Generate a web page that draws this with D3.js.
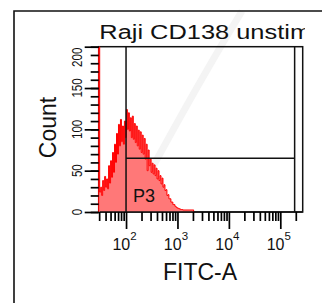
<!DOCTYPE html>
<html>
<head>
<meta charset="utf-8">
<script src="https://cdn.jsdelivr.net/npm/d3@7"></script>
<style>
  body { margin: 0; background: #fff; }
  text { font-family: "Liberation Sans", Arial, sans-serif; fill: #111; }
</style>
</head>
<body>
<div id="svg_chart"></div>
<script>
// histogram counts, one bin per ~1px (52 bins per decade), starting at the left edge
var counts = [
  260, 24, 30, 20, 38, 26, 43, 30, 40, 28, 56, 35, 62, 42, 72, 48,
  82, 60, 95, 70, 106, 80, 112, 85, 104, 82, 110, 90, 124, 100, 120, 98,
  114, 90, 116, 88, 107, 84, 104, 80, 99, 76, 97, 72, 93, 70, 89, 64,
  82, 50, 75, 56, 64, 48, 59, 46, 57, 44, 53, 40, 50, 38, 44, 34,
  41, 30, 33, 26, 27, 20, 21, 16, 16, 12, 12, 9, 9, 7, 6, 5,
  4.5, 4, 3.5, 3, 3, 2.5, 2.5, 2.5, 2.5, 2.5, 2.5, 2.5, 2.5, 2.5, 2.5, 2.5
];
var bins_per_decade = 52;
var x_min = 29.4, x_max = 272600;

var decades = [100, 1000, 10000, 100000];
var decade_exp = ['2', '3', '4', '5'];
var minor_mult = [2, 3, 4, 5, 6, 7, 8, 9];
var y_major = [0, 50, 100, 150, 200];
var y_labels = ['0', '50', '100', '150', '200'];

var gate_x = [100, 190000];
var gate_level = 65;

var title = 'Raji CD138 unstim';
var gate_name = 'P3';

const width = 322, height = 303;
const left = 98.7, top_ = 46.7, right = 302.7, bottom = 212;

var svg = d3.select('#svg_chart').append('svg')
  .attr('width', width)
  .attr('height', height);

// faint watermark band behind the plot
svg.append('path')
  .attr('d', 'M242,11 Q200,80 150,172')
  .attr('fill', 'none')
  .attr('stroke', '#f4f4f4')
  .attr('stroke-width', 7);

// outer frame
svg.append('path')
  .attr('d', `M14,${height + 5} L14,11 L${width + 5},11`)
  .attr('fill', 'none')
  .attr('stroke', '#111')
  .attr('stroke-width', 1.6);

var x = d3.scaleLog().domain([x_min, x_max]).range([left, right]);
var y = d3.scaleLinear().domain([0, 200]).range([bottom, top_]);

svg.append('clipPath').attr('id', 'plot_clip')
  .append('rect')
  .attr('x', left - 1).attr('y', top_)
  .attr('width', right - left + 1).attr('height', bottom - top_);

svg.append('clipPath').attr('id', 'title_clip')
  .append('rect')
  .attr('x', 0).attr('y', 0)
  .attr('width', 305).attr('height', top_);

// plot frame
svg.append('rect')
  .attr('x', left).attr('y', top_)
  .attr('width', right - left).attr('height', bottom - top_)
  .attr('fill', 'none')
  .attr('stroke', '#111')
  .attr('stroke-width', 1.5);

// histogram
var hist = counts.map(function(c, i) {
  return { v: Math.pow(10, Math.log10(x_min) + i / bins_per_decade), c: c };
});
hist.unshift({ v: x_min, c: 0 });
hist.push({ v: Math.pow(10, Math.log10(x_min) + counts.length / bins_per_decade), c: 0 });

var hist_group = svg.append('g').attr('clip-path', 'url(#plot_clip)');

hist_group.append('path')
  .datum(hist)
  .attr('fill', '#ff7878')
  .attr('d', d3.area()
    .curve(d3.curveStepAfter)
    .x(function(d) { return x(d.v); })
    .y0(y(0))
    .y1(function(d) { return y(d.c); }));

hist_group.append('path')
  .datum(hist)
  .attr('fill', 'none')
  .attr('stroke', '#ff0000')
  .attr('stroke-width', 1)
  .attr('d', d3.line()
    .curve(d3.curveStepAfter)
    .x(function(d) { return x(d.v); })
    .y(function(d) { return y(d.c); }));

// bottom edge again, over the histogram fill
svg.append('line')
  .attr('x1', left + 1).attr('x2', right)
  .attr('y1', bottom).attr('y2', bottom)
  .attr('stroke', '#111')
  .attr('stroke-width', 1.5);

// gate P3
svg.append('path')
  .attr('d', `M${x(gate_x[0])},${top_} L${x(gate_x[0])},${bottom}` +
             ` M${x(gate_x[1])},${top_} L${x(gate_x[1])},${bottom}` +
             ` M${x(gate_x[0])},${y(gate_level)} L${x(gate_x[1])},${y(gate_level)}`)
  .attr('fill', 'none')
  .attr('stroke', '#111')
  .attr('stroke-width', 1.5);

svg.append('text')
  .attr('x', x(gate_x[0]) + 7)
  .attr('y', 201.5)
  .style('font-size', '18px')
  .text(gate_name);

// x axis ticks
var x_minor = [];
[10, 100, 1000, 10000, 100000].forEach(function(d) {
  minor_mult.forEach(function(m) {
    var v = d * m;
    if (v >= x_min && v <= x_max) x_minor.push(v);
  });
});

function style_axis(g) {
  g.select('.domain').remove();
  g.selectAll('.tick text').remove();
  g.selectAll('.tick line').attr('stroke', '#000').attr('stroke-width', 1.7);
}

svg.append('g')
  .attr('transform', `translate(0,${bottom})`)
  .call(d3.axisBottom(x).tickValues(x_minor).tickSize(9))
  .call(style_axis);

svg.append('g')
  .attr('transform', `translate(0,${bottom})`)
  .call(d3.axisBottom(x).tickValues(decades).tickSize(17))
  .call(style_axis);

// decade labels 10^n
decades.forEach(function(d, i) {
  var t = svg.append('text')
    .attr('x', x(d) - 1.5)
    .attr('y', 250)
    .attr('text-anchor', 'middle')
    .style('font-size', '16px');
  t.append('tspan').text('10');
  t.append('tspan')
    .attr('dy', -10)
    .style('font-size', '11.5px')
    .text(decade_exp[i]);
});

// y axis ticks
svg.append('g')
  .attr('transform', `translate(${left},0)`)
  .call(d3.axisLeft(y).tickValues(d3.range(0, 201, 10)).tickSize(8))
  .call(style_axis);

svg.append('g')
  .attr('transform', `translate(${left},0)`)
  .call(d3.axisLeft(y).tickValues(y_major).tickSize(14))
  .call(style_axis);

y_major.forEach(function(d, i) {
  var top_label = (d === 200);
  svg.append('text')
    .attr('transform', `translate(81.5,${top_label ? top_ + 1 : y(d)}) rotate(-90) scale(1,1.3)`)
    .attr('text-anchor', top_label ? 'end' : 'middle')
    .style('font-size', '11.5px')
    .text(y_labels[i]);
});

// axis titles
svg.append('text')
  .attr('transform', 'translate(56,127.5) rotate(-90)')
  .attr('text-anchor', 'middle')
  .style('font-size', '23px')
  .text('Count');

svg.append('text')
  .attr('x', 200)
  .attr('y', 280)
  .attr('text-anchor', 'middle')
  .style('font-size', '23px')
  .text('FITC-A');

// title, clipped at the right like the original
svg.append('g')
  .attr('clip-path', 'url(#title_clip)')
  .append('text')
  .attr('transform', 'translate(99.3,39.3) scale(1.27,1)')
  .style('font-size', '20px')
  .text(title);
</script>
</body>
</html>
